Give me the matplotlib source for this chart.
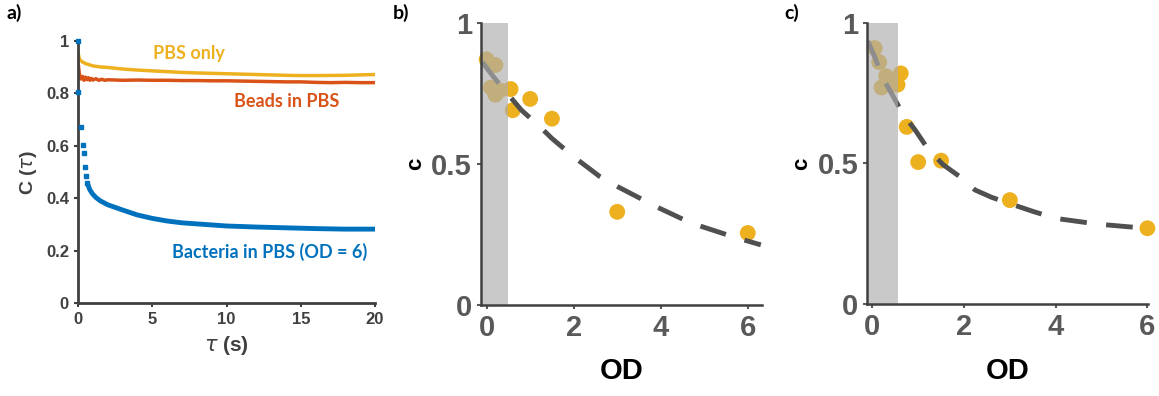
import matplotlib
matplotlib.use("Agg")
import matplotlib.pyplot as plt

plt.rcParams["font.family"] = ["Liberation Sans", "DejaVu Sans"]

# colours (MATLAB-like defaults)
c_blue = "#0072BD"
c_orange = "#D95319"
c_yellow = "#EDB120"
c_fit = "#505050"
c_axis = "#404040"

# ---- panel a: C(tau) curves ----
pbs_t = [0, 0.1, 0.3, 0.5, 1.0, 1.5, 2, 3, 4, 5, 6, 7, 8, 10, 12, 14, 15, 16, 18, 20]
pbs_c = [0.955, 0.93, 0.92, 0.914, 0.905, 0.901, 0.899, 0.893, 0.889, 0.886, 0.883, 0.880,
         0.878, 0.875, 0.872, 0.869, 0.868, 0.868, 0.869, 0.872]

beads_t = [0, 0.1, 0.2, 0.3, 0.4, 0.5, 0.6, 0.7, 0.8, 0.9, 1.0, 1.2, 1.4, 1.6, 1.8, 2.0,
           3, 4, 5, 6, 7, 8, 9, 10, 11, 12, 13, 14, 15, 16, 17, 18, 19, 20]
beads_c = [0.92, 0.87, 0.855, 0.865, 0.85, 0.862, 0.852, 0.86, 0.85, 0.857, 0.851, 0.856,
           0.85, 0.854, 0.85, 0.852, 0.85, 0.851, 0.85, 0.85, 0.849, 0.849, 0.848, 0.848,
           0.847, 0.846, 0.845, 0.844, 0.844, 0.842, 0.841, 0.842, 0.841, 0.841]

bact_sparse_t = [0, 0.02, 0.18, 0.32, 0.40, 0.45, 0.52, 0.63]
bact_sparse_c = [1.0, 0.806, 0.673, 0.603, 0.574, 0.52, 0.485, 0.457]

bact_t = [0.63, 0.8, 1.0, 1.2, 1.5, 2, 2.5, 3, 4, 5, 6, 7, 8, 10, 12, 14, 16, 18, 20]
bact_c = [0.457, 0.432, 0.415, 0.403, 0.39, 0.375, 0.365, 0.355, 0.336, 0.323, 0.313,
          0.306, 0.302, 0.294, 0.29, 0.287, 0.284, 0.282, 0.282]

# ---- panel b ----
b_od = [0.0, 0.2, 0.1, 0.3, 0.2, 0.55, 0.6, 1.0, 1.5, 3.0, 6.0]
b_c = [0.87, 0.85, 0.77, 0.76, 0.745, 0.765, 0.69, 0.73, 0.66, 0.33, 0.255]
b_fit_od = [-0.1, 0.2, 0.5, 0.8, 1.2, 1.5, 2.0, 2.6, 3.0, 3.5, 3.9, 4.7, 5.2, 5.7, 6.3]
b_fit_c = [0.86, 0.80, 0.745, 0.69, 0.635, 0.59, 0.525, 0.455, 0.42, 0.38, 0.348, 0.29,
           0.265, 0.24, 0.213]

# ---- panel c ----
c_od = [0.05, 0.15, 0.3, 0.2, 0.45, 0.62, 0.55, 0.75, 1.0, 1.5, 3.0, 6.0]
c_c = [0.91, 0.86, 0.81, 0.77, 0.78, 0.82, 0.78, 0.63, 0.505, 0.51, 0.37, 0.27]
c_fit_od = [-0.1, 0.06, 0.24, 0.46, 0.68, 0.93, 1.22, 1.55, 1.91, 2.24, 2.6, 3.08, 3.5,
            4.0, 4.9, 5.95]
c_fit_c = [0.935, 0.875, 0.80, 0.737, 0.672, 0.62, 0.55, 0.495, 0.453, 0.406, 0.38, 0.353,
           0.33, 0.305, 0.285, 0.27]

fig = plt.figure(figsize=(11.59, 3.96), dpi=100)

# panel a
ax = fig.add_axes([0.0673, 0.2348, 0.2563, 0.6617])
ax.plot(pbs_t, pbs_c, color=c_yellow, lw=2.5)
ax.plot(beads_t, beads_c, color=c_orange, lw=2.5)
ax.plot(bact_t, bact_c, color=c_blue, lw=3.5, solid_capstyle="butt")
ax.plot(bact_sparse_t, bact_sparse_c, ls="none", marker="s", ms=3.5, color=c_blue,
        clip_on=False, zorder=6)
ax.set_xlim(0, 20)
ax.set_ylim(0, 1)
ax.set_xticks([0, 5, 10, 15, 20])
ax.set_yticks([0, 0.2, 0.4, 0.6, 0.8, 1])
ax.set_yticklabels(["0", "0.2", "0.4", "0.6", "0.8", "1"])
for s in ["top", "right"]:
    ax.spines[s].set_visible(False)
for s in ["left", "bottom"]:
    ax.spines[s].set_color(c_axis)
    ax.spines[s].set_linewidth(2)
ax.tick_params(colors=c_axis, labelsize=12, length=3, width=1.5)
for lab in ax.get_xticklabels() + ax.get_yticklabels():
    lab.set_fontweight("bold")
ax.set_xlabel(r"$\tau$ (s)", fontsize=15, fontweight="bold", color=c_axis, labelpad=5)
ax.set_ylabel(r"C ($\tau$)", fontsize=14, fontweight="bold", color=c_axis, labelpad=5)
ax.text(7.5, 0.953, "PBS only", color=c_yellow, fontsize=13, fontweight="bold",
        family=["Lato", "DejaVu Sans"], ha="center", va="center")
ax.text(14.05, 0.768, "Beads in PBS", color=c_orange, fontsize=13, fontweight="bold",
        family=["Lato", "DejaVu Sans"], ha="center", va="center")
ax.text(12.9, 0.196, "Bacteria in PBS (OD = 6)", color=c_blue, fontsize=13,
        fontweight="bold", family=["Lato", "DejaVu Sans"], ha="center", va="center")


def od_panel(rect, xlim, band_right, od, cval, fit_od, fit_c):
    ax = fig.add_axes(rect)
    ax.scatter(od, cval, s=130, color=c_yellow, edgecolors="none", zorder=2, clip_on=False)
    ax.plot(fit_od, fit_c, color=c_fit, lw=3.5, ls=(0, (5.5, 4)), zorder=3)
    ax.axvspan(xlim[0], band_right, color="#ADADAD", alpha=0.66, lw=0, zorder=4)
    ax.set_xlim(*xlim)
    ax.set_ylim(0, 1)
    ax.set_xticks([0, 2, 4, 6])
    ax.set_yticks([0, 0.5, 1])
    ax.set_yticklabels(["0", "0.5", "1"])
    for s in ["top", "right"]:
        ax.spines[s].set_visible(False)
    for s in ["left", "bottom"]:
        ax.spines[s].set_color(c_axis)
        ax.spines[s].set_linewidth(1.8)
        ax.spines[s].set_zorder(5)
    ax.tick_params(colors="#595959", labelsize=21, length=3, width=1.5)
    for lab in ax.get_xticklabels() + ax.get_yticklabels():
        lab.set_fontweight("bold")
    ax.set_xlabel("OD", fontsize=21, fontweight="bold", color="black", labelpad=11)
    ax.set_ylabel("c", fontsize=16, fontweight="bold", color="black", labelpad=4)
    return ax


od_panel([0.415, 0.2298, 0.2422, 0.7129], (-0.13, 6.32), 0.5, b_od, b_c, b_fit_od, b_fit_c)
od_panel([0.7483, 0.2316, 0.2425, 0.7111], (-0.11, 6.02), 0.57, c_od, c_c, c_fit_od, c_fit_c)

lab_font = dict(fontsize=14, fontweight="bold", family=["Lato", "DejaVu Sans"],
                ha="left", va="top", color="black")
fig.text(0.006, 0.99, "a)", **lab_font)
fig.text(0.339, 0.99, "b)", **lab_font)
fig.text(0.677, 0.99, "c)", **lab_font)

fig.savefig("out.png", dpi=100)
